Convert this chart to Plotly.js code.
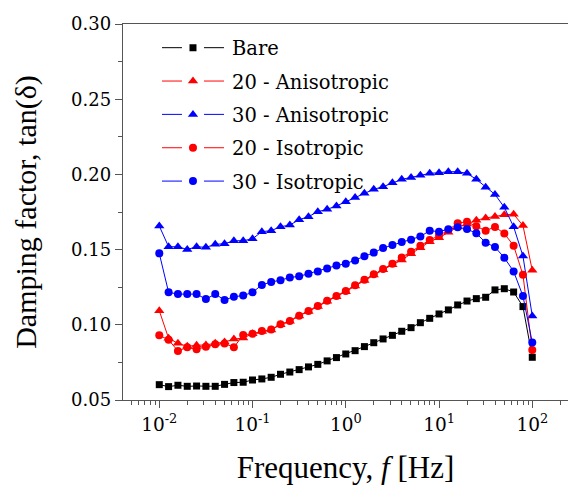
<!DOCTYPE html>
<html>
<head>
<meta charset="utf-8">
<script src="https://cdn.plot.ly/plotly-3.0.1.min.js"></script>
<style>
html,body{margin:0;padding:0;background:#fff;overflow:hidden;}
#chart{width:568px;height:485px;}
</style>
</head>
<body>
<div id="chart"></div>
<script>
// log10 of frequency, 0.1-decade steps from 10^-2 to 10^2
var logFreq = [-2.0,-1.9,-1.8,-1.7,-1.6,-1.5,-1.4,-1.3,-1.2,-1.1,-1.0,-0.9,-0.8,-0.7,-0.6,-0.5,-0.4,-0.3,-0.2,-0.1,0.0,0.1,0.2,0.3,0.4,0.5,0.6,0.7,0.8,0.9,1.0,1.1,1.2,1.3,1.4,1.5,1.6,1.7,1.8,1.9,2.0];
var frequency = logFreq.map(function(v){ return Math.pow(10, v); });

var bare = [0.0602,0.0589,0.0598,0.0591,0.0593,0.0591,0.0591,0.0604,0.0616,0.0618,0.0633,0.0640,0.0651,0.0671,0.0686,0.0702,0.0720,0.0737,0.0760,0.0782,0.0806,0.0828,0.0855,0.0881,0.0906,0.0930,0.0957,0.0981,0.1014,0.1043,0.1072,0.1099,0.1132,0.1158,0.1174,0.1183,0.1232,0.1240,0.1218,0.1121,0.0784];
var aniso20 = [0.1094,0.0910,0.0877,0.0857,0.0864,0.0866,0.0877,0.0885,0.0905,0.0912,0.0940,0.0955,0.0966,0.1001,0.1023,0.1059,0.1088,0.1121,0.1156,0.1187,0.1220,0.1258,0.1294,0.1331,0.1366,0.1400,0.1431,0.1473,0.1513,0.1553,0.1579,0.1615,0.1650,0.1670,0.1695,0.1710,0.1720,0.1731,0.1735,0.1660,0.1362];
var aniso30 = [0.1657,0.1519,0.1519,0.1501,0.1519,0.1515,0.1535,0.1539,0.1559,0.1559,0.1572,0.1619,0.1626,0.1652,0.1663,0.1699,0.1719,0.1752,0.1768,0.1790,0.1818,0.1847,0.1874,0.1901,0.1918,0.1945,0.1967,0.1980,0.1994,0.2007,0.2011,0.2018,0.2018,0.2007,0.1967,0.1914,0.1867,0.1781,0.1652,0.1457,0.1058];
var iso20 = [0.0930,0.0900,0.0826,0.0850,0.0837,0.0854,0.0870,0.0876,0.0850,0.0933,0.0940,0.0958,0.0968,0.1003,0.1026,0.1061,0.1091,0.1125,0.1160,0.1191,0.1225,0.1263,0.1299,0.1336,0.1371,0.1406,0.1448,0.1486,0.1526,0.1564,0.1593,0.1630,0.1676,0.1685,0.1655,0.1626,0.1651,0.1607,0.1526,0.1332,0.0832];
var iso30 = [0.1475,0.1216,0.1204,0.1204,0.1204,0.1171,0.1204,0.1165,0.1187,0.1194,0.1216,0.1265,0.1285,0.1296,0.1315,0.1322,0.1340,0.1355,0.1375,0.1394,0.1406,0.1428,0.1455,0.1480,0.1510,0.1530,0.1550,0.1566,0.1587,0.1626,0.1619,0.1636,0.1648,0.1637,0.1608,0.1546,0.1517,0.1446,0.1355,0.1191,0.0883];

var xTickVals = [0.01, 0.1, 1, 10, 100];
var xTickText = ["10<sup>-2</sup>","10<sup>-1</sup>","10<sup>0</sup>","10<sup>1</sup>","10<sup>2</sup>"];

var seriesNames = ["Bare","20 - Anisotropic","30 - Anisotropic","20 - Isotropic","30 - Isotropic"];
var seriesData = [bare, aniso20, aniso30, iso20, iso30];
var seriesColors = ["#000000","#ff0000","#0000ff","#ff0000","#0000ff"];
var seriesSymbols = ["square","triangle-up","triangle-up","circle","circle"];
var seriesSizes = [7,9,9,8,8];

var traces = seriesData.map(function(d,i){
  return {
    x: frequency, y: d, name: seriesNames[i], type: "scatter", mode: "lines+markers",
    legendgroup: "g" + i,
    line: {color: seriesColors[i], width: 1},
    marker: {color: seriesColors[i], symbol: seriesSymbols[i], size: seriesSizes[i]}
  };
});

var serifSmall = "DejaVu Serif";
var serifBig = "Liberation Serif";
var layout = {
  width: 568, height: 485,
  margin: {l: 123, r: 0, t: 24, b: 85},
  paper_bgcolor: "#fff", plot_bgcolor: "#fff",
  font: {family: serifSmall, color: "#000", size: 18},
  showlegend: true,
  legend: {x: 0.0876, y: 0.988, xanchor: "left", yanchor: "top", bgcolor: "rgba(0,0,0,0)",
           font: {family: serifSmall, size: 19.5, color: "#000"}, itemwidth: 60,
           traceorder: "grouped", tracegroupgap: 5},
  xaxis: {
    type: "log", range: [-2.389, 2.383], showgrid: false, zeroline: false,
    showline: true, mirror: true, linecolor: "#555", linewidth: 1.3,
    ticks: "outside", ticklen: 7, tickcolor: "#555", tickwidth: 1,
    tickmode: "array", tickvals: xTickVals, ticktext: xTickText,
    tickfont: {family: serifSmall, size: 18.5},
    minor: {ticks: "outside", ticklen: 4, tickcolor: "#555", dtick: "D1", showgrid: false},
    title: {text: "Frequency, <i>f</i> [Hz]", font: {family: serifBig, size: 31}, standoff: 46}
  },
  yaxis: {
    range: [0.05, 0.30], showgrid: false, zeroline: false,
    showline: true, mirror: true, linecolor: "#555", linewidth: 1.3,
    ticks: "outside", ticklen: 7, tickcolor: "#555", tickwidth: 1,
    dtick: 0.05, tick0: 0.05, tickformat: ".2f",
    tickfont: {family: serifSmall, size: 18},
    minor: {ticks: "outside", ticklen: 4, tickcolor: "#555", dtick: 0.025, showgrid: false},
    title: {text: "Damping factor, tan(δ)", font: {family: serifBig, size: 30}, standoff: 25}
  }
};

Plotly.newPlot("chart", traces, layout, {staticPlot: true, displayModeBar: false}).then(function(gd){
  // Origin-style legend sample: long line with a gap around a centred marker
  gd.querySelectorAll(".legend .legendlines path").forEach(function(p){
    p.setAttribute("d", "M0,0h20M42,0h20");
  });
  gd.querySelectorAll(".legend .legendpoints path").forEach(function(p){
    p.setAttribute("transform", "translate(31,0)");
  });
});
</script>
</body>
</html>
